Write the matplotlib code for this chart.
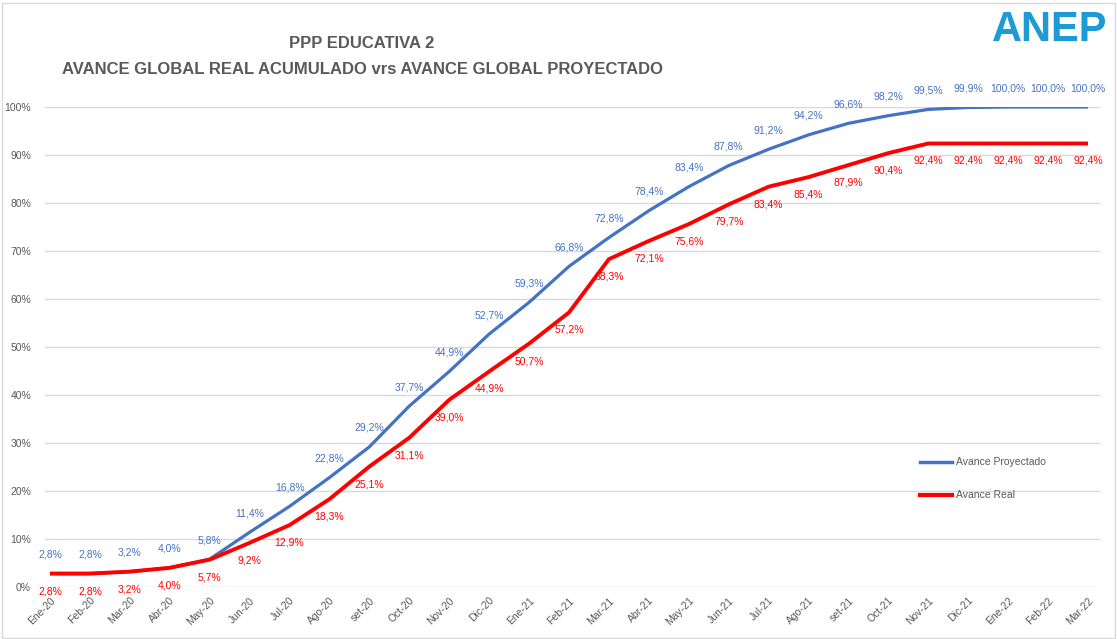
import numpy as np
import matplotlib
matplotlib.use("Agg")
import matplotlib.pyplot as plt
from matplotlib.patches import Rectangle

months = ["Ene-20", "Feb-20", "Mar-20", "Abr-20", "May-20", "Jun-20", "Jul-20", "Ago-20",
          "set-20", "Oct-20", "Nov-20", "Dic-20", "Ene-21", "Feb-21", "Mar-21", "Abr-21",
          "May-21", "Jun-21", "Jul-21", "Ago-21", "set-21", "Oct-21", "Nov-21", "Dic-21",
          "Ene-22", "Feb-22", "Mar-22"]
proyectado = [2.8, 2.8, 3.2, 4.0, 5.8, 11.4, 16.8, 22.8, 29.2, 37.7, 44.9, 52.7, 59.3, 66.8,
              72.8, 78.4, 83.4, 87.8, 91.2, 94.2, 96.6, 98.2, 99.5, 99.9, 100.0, 100.0, 100.0]
real = [2.8, 2.8, 3.2, 4.0, 5.7, 9.2, 12.9, 18.3, 25.1, 31.1, 39.0, 44.9, 50.7, 57.2,
        68.3, 72.1, 75.6, 79.7, 83.4, 85.4, 87.9, 90.4, 92.4, 92.4, 92.4, 92.4, 92.4]
yticks = [0, 10, 20, 30, 40, 50, 60, 70, 80, 90, 100]

BLUE = "#4472C4"
RED = "#FF0000"
GREY = "#595959"
FONT = ["Liberation Sans Narrow", "Liberation Sans", "DejaVu Sans"]

W, H = 1117, 639
fig = plt.figure(figsize=(W / 100, H / 100), dpi=100)
fig.patches.append(Rectangle((0.002, 0.002), 0.996, 0.993, transform=fig.transFigure,
                             fill=False, ec="#d9d9d9", lw=1))

# axes placed in pixel terms: x 45..1100, y 0% at 587, 100% at 107
ax = fig.add_axes([45 / W, 1 - 587 / H, 1055 / W, 480 / H])
x = np.arange(len(months))
ax.set_xlim(-0.125, 26.3)
ax.set_ylim(0, 100)

for yv in yticks:
    ax.axhline(yv, color="#d9d9d9", lw=1, zorder=0)
for s in ax.spines.values():
    s.set_visible(False)
ax.set_yticks(yticks)
ax.set_yticklabels([f"{v}%" for v in yticks], fontsize=7.5, color=GREY, family=FONT)
ax.tick_params(axis="y", length=0, pad=10)
ax.set_xticks(x)
ax.set_xticklabels(months, rotation=45, ha="right", rotation_mode="anchor",
                   fontsize=7.5, color=GREY, family=FONT)
ax.tick_params(axis="x", length=0, pad=6)

ax.plot(x, proyectado, color=BLUE, lw=2.3, label="Avance Proyectado", zorder=3,
        solid_capstyle="butt")
ax.plot(x, real, color=RED, lw=2.8, label="Avance Real", zorder=4, solid_capstyle="butt")

def fmt(v):
    return f"{v:.1f}".replace(".", ",") + "%"

for xi, v in zip(x, proyectado):
    ax.annotate(fmt(v), (xi, v), xytext=(0, 10), textcoords="offset points", ha="center",
                va="bottom", fontsize=7.5, color=BLUE, family=FONT, annotation_clip=False)
for xi, v in zip(x, real):
    ax.annotate(fmt(v), (xi, v), xytext=(0, -9), textcoords="offset points", ha="center",
                va="top", fontsize=7.5, color=RED, family=FONT, annotation_clip=False)

# legend entries
for yy, col, lab in [(462, BLUE, "Avance Proyectado"), (495, RED, "Avance Real")]:
    fig.add_artist(plt.Line2D([920 / W, 952 / W], [1 - yy / H] * 2, color=col,
                              lw=2.5 if col == BLUE else 3, transform=fig.transFigure))
    fig.text(956 / W, 1 - yy / H, lab, fontsize=7.5, color=GREY, va="center", family=FONT)

fig.text(362 / W, 1 - 43 / H, "PPP EDUCATIVA 2", fontsize=12, fontweight="bold",
         color=GREY, ha="center", va="center", family=FONT)
fig.text(362 / W, 1 - 70 / H, "AVANCE GLOBAL REAL ACUMULADO vrs AVANCE GLOBAL PROYECTADO",
         fontsize=12, fontweight="bold", color=GREY, ha="center", va="center", family=FONT)
fig.text(1050 / W, 1 - 30 / H, "ANEP", fontsize=30, fontweight="bold", color="#1E9BD7",
         ha="center", va="center", family=FONT)

fig.savefig("out.png", dpi=100)
